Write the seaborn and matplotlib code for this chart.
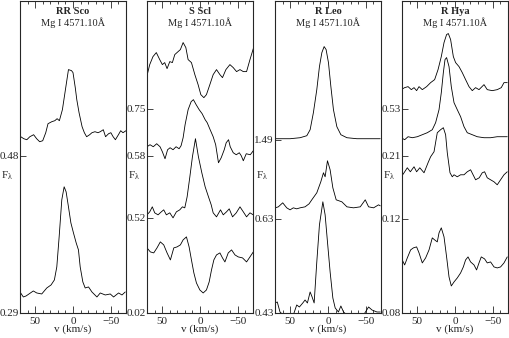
import numpy as np
import pandas as pd
import seaborn as sns
import matplotlib
matplotlib.use("Agg")
from matplotlib import pyplot as plt
from matplotlib.ticker import MultipleLocator

# velocity (km/s) and shifted relative flux
rrsco_v1 = [70, 69, 65, 61, 57, 52, 48, 44, 40, 36, 33, 28, 24, 21, 18, 14, 10, 6, 2, 0,
            -3, -5, -8, -12, -15, -18, -22, -25, -29, -33, -36, -40, -43, -47, -50, -53,
            -56, -60, -63, -66, -70]
rrsco_f1 = [1.77, 1.76, 1.74, 1.73, 1.76, 1.78, 1.74, 1.71, 1.72, 1.80, 1.89, 1.91, 1.92,
            1.94, 1.92, 2.03, 2.23, 2.43, 2.42, 2.40, 2.25, 2.13, 2.00, 1.86, 1.80, 1.76,
            1.78, 1.80, 1.81, 1.80, 1.81, 1.83, 1.76, 1.79, 1.80, 1.76, 1.73, 1.78, 1.82,
            1.80, 1.82]
rrsco_v2 = [70, 65.6, 62, 52.4, 47.9, 41.3, 34.6, 29, 24.6, 21.4, 18.3, 14.8, 11.7, 9.1, 6,
            2.8, -0.6, -4.2, -7.2, -9.5, -13, -16.1, -20.5, -25, -31.6, -36, -42.6, -49.2,
            -53.6, -60.2, -64.7, -69]
rrsco_f2 = [0.21, 0.16, 0.17, 0.22, 0.20, 0.19, 0.25, 0.28, 0.33, 0.46, 0.76, 1.13, 1.26,
            1.21, 1.06, 0.90, 0.80, 0.70, 0.63, 0.46, 0.31, 0.25, 0.26, 0.21, 0.16, 0.20,
            0.18, 0.19, 0.16, 0.20, 0.18, 0.21]

sscl_v1 = [70, 66.4, 62.1, 57.7, 53.2, 49.7, 46.6, 43.5, 39.9, 36.5, 33.3, 28.9, 25.9, 22.3,
           18.7, 15.7, 11.3, 6.8, 2.5, -1.1, -5.1, -8.5, -13, -17.4, -21.8, -26.3, -29.7,
           -34.2, -39.5, -43.9, -48.3, -52.8, -57.2, -61.5, -66, -70.4]
sscl_f1 = [2.37, 2.48, 2.56, 2.60, 2.53, 2.48, 2.50, 2.44, 2.51, 2.50, 2.58, 2.61, 2.63, 2.70,
           2.65, 2.53, 2.50, 2.38, 2.28, 2.18, 2.15, 2.18, 2.28, 2.38, 2.43, 2.38, 2.35, 2.43,
           2.48, 2.45, 2.41, 2.43, 2.41, 2.41, 2.53, 2.64]
sscl_v2 = [70, 66, 61.7, 57.2, 52.8, 49.7, 46.2, 42.8, 39.5, 35.6, 31.6, 27.6, 25, 22.3, 19.7,
           15.7, 11.7, 8.7, 5.1, 1.1, -2.8, -6.8, -9.5, -13.4, -17.4, -20.7, -24.4, -28, -32,
           -34.6, -37.7, -39.9, -43.9, -47.9, -51.9, -54.5, -57.2, -61.1, -66.4, -70.4]
sscl_f2 = [1.66, 1.68, 1.66, 1.69, 1.66, 1.61, 1.54, 1.63, 1.65, 1.63, 1.66, 1.64, 1.67, 1.75,
           1.88, 2.03, 2.11, 2.13, 2.08, 2.03, 1.99, 1.93, 1.90, 1.83, 1.76, 1.68, 1.50, 1.55,
           1.63, 1.70, 1.73, 1.66, 1.60, 1.58, 1.60, 1.57, 1.52, 1.59, 1.58, 1.62]
sscl_v3 = [70, 66.4, 63, 59.8, 55.4, 51.1, 47.9, 44.4, 39.9, 35.6, 31.2, 26.7, 23.2, 20.1, 17,
           13.4, 10, 6, 2.1, -2.4, -6.8, -11.2, -14.8, -17.4, -21.8, -27.1, -30.7, -35, -38.6,
           -43, -47.9, -52.8, -57.2, -61.5, -66, -70.4]
sscl_f3 = [0.98, 1.01, 1.06, 1.00, 0.98, 1.01, 1.03, 0.98, 1.00, 0.95, 1.01, 1.03, 1.06, 1.05,
           1.16, 1.36, 1.56, 1.74, 1.56, 1.40, 1.26, 1.16, 1.08, 1.00, 0.96, 1.03, 0.98, 1.01,
           1.04, 0.96, 1.00, 1.06, 1.01, 0.96, 1.00, 0.98]
sscl_v4 = [70, 65.6, 61.1, 56.8, 52.4, 47.9, 43.5, 39.1, 34.6, 30.3, 25.9, 22.3, 17.9, 14.4,
           11.3, 8.1, 4.7, 0.2, -4.2, -8.5, -12.1, -15.2, -18.3, -21.8, -26.3, -29.7, -32.9,
           -37.3, -41.7, -46.2, -50.5, -56.2, -61.5, -66, -70.4]
sscl_f4 = [0.65, 0.61, 0.60, 0.65, 0.71, 0.68, 0.60, 0.53, 0.65, 0.66, 0.68, 0.73, 0.76, 0.66,
           0.53, 0.40, 0.30, 0.23, 0.20, 0.23, 0.31, 0.43, 0.53, 0.58, 0.60, 0.55, 0.51, 0.60,
           0.63, 0.58, 0.56, 0.55, 0.51, 0.56, 0.61]

rleo_v1 = [70, 50.1, 36.9, 28, 23.6, 19.3, 14.8, 11.3, 8.1, 5.1, 2.5, -0.6, -3.8, -7.2, -11.7,
           -17, -25, -38.2, -69]
rleo_f1 = [1.74, 1.74, 1.75, 1.77, 1.83, 2.00, 2.23, 2.46, 2.60, 2.66, 2.63, 2.50, 2.26, 2.03,
           1.86, 1.78, 1.75, 1.74, 1.74]
rleo_v2 = [69.6, 65.6, 59.8, 54.5, 50.1, 45.8, 41.3, 36.9, 30.3, 25, 21.4, 14.8, 9.5, 6, 3.8,
           0.7, -2.8, -6.4, -10.8, -18.3, -25, -33.7, -42.6, -49.2, -53.6, -60.2, -66.8, -69]
rleo_f2 = [1.05, 1.06, 1.10, 1.05, 1.03, 1.05, 1.04, 1.05, 1.06, 1.09, 1.13, 1.20, 1.31, 1.40,
           1.36, 1.52, 1.43, 1.25, 1.13, 1.11, 1.06, 1.05, 1.06, 1.13, 1.06, 1.05, 1.08, 1.07]
rleo_v3 = [70, 67, 63.4, 59, 45.8, 41.3, 37.8, 33.3, 30.3, 27.2, 23.6, 21, 18.3, 14.8, 11.3,
           6.8, 3.8, 0.7, -2.8, -6.4, -9.5, -13.8, -17, -20.5, -25, -47, -53.6, -58.1,
           -64.7, -69]
rleo_f3 = [0.10, 0.11, 0.01, -0.02, -0.02, 0.08, 0.06, 0.10, 0.13, 0.10, 0.21, 0.16, 0.10,
           0.51, 0.88, 1.11, 0.98, 0.71, 0.41, 0.15, 0.05, 0.01, 0.07, 0.01, -0.02, -0.02,
           0.06, 0.03, 0.01, 0.01]

rhya_v1 = [71, 66.5, 62, 57.7, 54.1, 50.7, 47.5, 43.2, 37.5, 32.2, 26.9, 22.4, 18.1, 14.5,
           11.1, 8.8, 5.8, 2.2, -0.8, -5.3, -9.6, -14, -18.5, -22.8, -27.2, -31.7, -38.3,
           -42.6, -49.2, -55.8, -61.1, -64.7, -69]
rhya_f1 = [2.23, 2.25, 2.26, 2.23, 2.25, 2.22, 2.26, 2.23, 2.26, 2.30, 2.33, 2.43, 2.56, 2.70,
           2.78, 2.79, 2.73, 2.56, 2.50, 2.46, 2.40, 2.33, 2.26, 2.22, 2.25, 2.23, 2.28, 2.23,
           2.22, 2.23, 2.25, 2.30, 2.30]
rhya_v2 = [71, 66.5, 62, 56.4, 49.8, 43.2, 36.6, 30, 25.6, 21.1, 18.1, 15.4, 13.2, 11.1, 7.9,
           4.9, 1.3, -3, -7.4, -11.9, -16.2, -22.8, -29.4, -38.3, -47, -55.8, -62.4, -69]
rhya_f2 = [1.75, 1.73, 1.76, 1.75, 1.76, 1.78, 1.80, 1.83, 1.90, 2.03, 2.20, 2.40, 2.53, 2.55,
           2.46, 2.26, 2.10, 2.03, 1.96, 1.86, 1.80, 1.78, 1.76, 1.75, 1.75, 1.76, 1.76, 1.76]
rhya_v3 = [71, 67.3, 63, 59, 54.1, 50.7, 46.5, 40.9, 35.6, 32.2, 27.7, 23.4, 19, 15.4, 12.4,
           10.2, 6.6, 3.6, 1.3, -3, -7.4, -11.9, -16.2, -20.6, -27.2, -32, -36, -39.1, -42.6,
           -47, -51.5, -55.8, -60.2, -64.7, -69]
rhya_f3 = [1.36, 1.40, 1.45, 1.41, 1.46, 1.41, 1.45, 1.40, 1.50, 1.56, 1.61, 1.80, 1.83, 1.85,
           1.78, 1.60, 1.40, 1.36, 1.38, 1.36, 1.38, 1.38, 1.41, 1.43, 1.33, 1.35, 1.40, 1.41,
           1.35, 1.33, 1.31, 1.28, 1.33, 1.38, 1.41]
rhya_v4 = [71, 66.5, 63, 58.6, 55, 50.7, 47.5, 43.2, 38.8, 34.3, 30, 26.9, 23.4, 21.1, 18.1,
           14.5, 11.1, 7.9, 4.9, 1.3, -3, -7.4, -11, -14, -17.2, -20.6, -25.1, -28.5, -31.7,
           -34.7, -39.1, -42.6, -47, -51.5, -55.8, -60.2, -64.7, -69]
rhya_f4 = [0.55, 0.48, 0.55, 0.63, 0.65, 0.66, 0.60, 0.50, 0.55, 0.63, 0.75, 0.73, 0.71, 0.80,
           0.85, 0.76, 0.56, 0.36, 0.27, 0.31, 0.35, 0.40, 0.46, 0.53, 0.56, 0.51, 0.48, 0.43,
           0.50, 0.56, 0.54, 0.50, 0.51, 0.46, 0.45, 0.46, 0.50, 0.56]

star_names = ["RR Sco", "S Scl", "R Leo", "R Hya"]
line_name = "Mg I 4571.10Å"
ytick_pos = [[1.57, 0.0], [2.04, 1.57, 0.95, 0.0], [1.73, 0.94, 0.0], [2.04, 1.57, 0.94, 0.0]]
ytick_lab = [["0.48", "0.29"], ["0.75", "0.58", "0.52", "0.02"],
             ["1.49", "0.63", "0.43"], ["0.53", "0.21", "0.12", "0.08"]]

curves = [
    [(rrsco_v1, rrsco_f1), (rrsco_v2, rrsco_f2)],
    [(sscl_v1, sscl_f1), (sscl_v2, sscl_f2), (sscl_v3, sscl_f3), (sscl_v4, sscl_f4)],
    [(rleo_v1, rleo_f1), (rleo_v2, rleo_f2), (rleo_v3, rleo_f3)],
    [(rhya_v1, rhya_f1), (rhya_v2, rhya_f2), (rhya_v3, rhya_f3), (rhya_v4, rhya_f4)],
]

sns.set_style("ticks")
plt.rcParams["font.family"] = ["Liberation Serif", "DejaVu Serif"]
plt.rcParams["mathtext.fontset"] = "custom"
plt.rcParams["mathtext.rm"] = "Liberation Serif"
plt.rcParams["mathtext.it"] = "Liberation Serif"
plt.rcParams["axes.linewidth"] = 0.8

fig = plt.figure(figsize=(5.09, 3.38), dpi=100)
lefts = [20, 147, 275, 402]
width = 106
for k, name in enumerate(star_names):
    ax = fig.add_axes([lefts[k] / 509, 25 / 338, width / 509, 312.5 / 338])
    for v, f in curves[k]:
        df = pd.DataFrame({"v": v, "f": f})
        sns.lineplot(data=df, x="v", y="f", ax=ax, color="k", linewidth=0.6,
                     sort=False, estimator=None)
    ax.set_xlim(70, -70)
    ax.set_ylim(0, 3.12)
    ax.xaxis.set_major_locator(MultipleLocator(50))
    ax.xaxis.set_minor_locator(MultipleLocator(10))
    ax.tick_params(axis="x", which="both", direction="in", top=True, bottom=True,
                   labelsize=8, pad=3)
    ax.tick_params(axis="x", which="major", length=5, width=0.6)
    ax.tick_params(axis="x", which="minor", length=2.5, width=0.6)
    ax.set_yticks(ytick_pos[k])
    ax.set_yticklabels(ytick_lab[k])
    ax.tick_params(axis="y", direction="in", left=True, right=False, length=4,
                   width=0.6, labelsize=8, pad=1)
    ax.set_xlabel("v (km/s)", fontsize=8, labelpad=-1)
    ax.set_ylabel(r"F$_\lambda$", fontsize=8, rotation=0)
    ax.yaxis.set_label_coords(-0.12, 0.42)
    ax.text(0.5, 0.965, name, transform=ax.transAxes, ha="center", va="center",
            fontsize=7.5, fontweight="bold")
    ax.text(0.5, 0.928, line_name, transform=ax.transAxes, ha="center", va="center",
            fontsize=7.5)

fig.savefig("out.png", dpi=100)
